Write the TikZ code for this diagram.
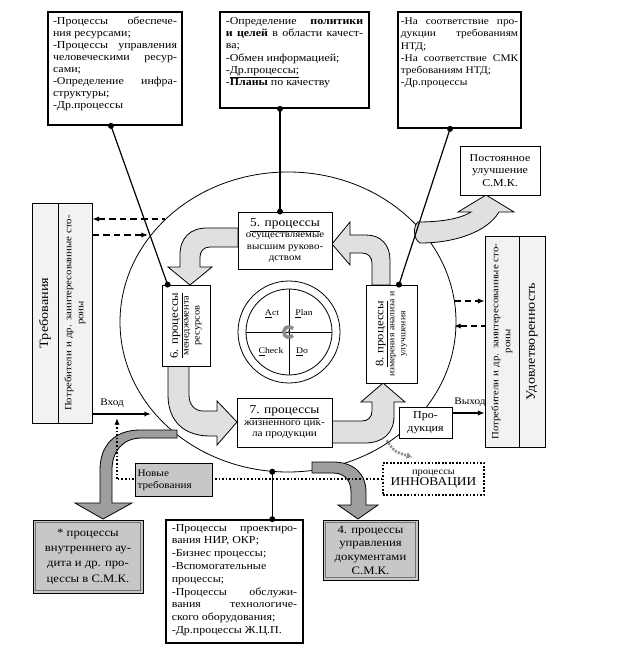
\documentclass[tikz,border=0pt]{standalone}
\usepackage{fontspec}
\setmainfont{Liberation Serif}[FakeStretch=1.12]
\usetikzlibrary{arrows.meta,shapes.geometric}
\newcommand\fz[2]{\fontsize{#1}{#2}\selectfont}
\newcommand\tbox[3]{\begin{minipage}[c][#1][t]{#2}#3\end{minipage}}
\begin{document}
\begin{tikzpicture}[x=0.75pt,y=-0.75pt,
  >={Latex[length=5pt,width=4pt]},
  box/.style={draw, line width=0.6pt, fill=white, inner sep=0pt},
  tbx/.style={draw, line width=1.3pt, fill=white, inner sep=0pt},
  col/.style={draw, line width=0.6pt, fill=black!5, inner sep=0pt},
  gbox/.style={draw, line width=0.6pt, fill=black!22, inner sep=0pt},
  dot/.style={circle, fill, inner sep=0pt, minimum size=4.5pt},
  conn/.style={line width=0.9pt},
  dsh/.style={line width=1.1pt, dash pattern=on 5pt off 3pt},
  dtt/.style={line width=1.2pt, dash pattern=on 1.2pt off 1.5pt},
  bigarr/.style={fill=black!12, draw, line width=0.6pt},
  grarr/.style={fill=black!38, draw, line width=0.6pt},
  lbl/.style={inner sep=0.5pt}]
\useasboundingbox (0,0) rectangle (625,648);
\fill[white] (0,0) rectangle (625,648);

% big ellipse
\node[draw, ellipse, line width=0.6pt, minimum width=252pt, minimum height=225pt, inner sep=0pt] (C) at (288,322) {};

\coordinate (inp) at (151,414);
\coordinate (nd) at (117,479);
\coordinate (dl1) at (165,219);
\coordinate (dl2) at (148,235);
\coordinate (dr1) at (454,301);
\coordinate (dr2) at (454,326);
\coordinate (outp) at (452,413);

% block arrows in the ring
\draw[bigarr] (238,228) -- (207,228) .. controls (190,228) and (180,238) .. (180,255) -- (180,267) -- (168,267) -- (190,285) -- (212,267) -- (200,267) -- (200,257) .. controls (200,251) and (204,247) .. (210,247) -- (238,247) -- cycle;
\draw[bigarr] (168,365) -- (168,395) .. controls (168,422) and (185,436) .. (210,436) -- (217,436) -- (217,445) -- (237,422) -- (217,401) -- (217,411) -- (203,411) .. controls (195,411) and (189,405) .. (189,395) -- (189,365) -- cycle;
\draw[bigarr] (332,421) -- (362,421) .. controls (368,421) and (372,417) .. (372,411) -- (372,402) -- (361,402) -- (383,383) -- (405,402) -- (394,402) -- (394,416) .. controls (394,433) and (383,443) .. (365,443) -- (332,443) -- cycle;
\draw[bigarr] (372,285) -- (372,263) .. controls (372,257) and (368,253) .. (362,253) -- (350,253) -- (350,265) -- (332,244) -- (350,222) -- (350,235) -- (366,235) .. controls (381,235) and (390,245) .. (390,260) -- (390,285) -- cycle;
% improvement arrow
\draw[bigarr] (418,222) .. controls (440,222) and (460,219) .. (471,212) -- (458,212) -- (486,195) -- (514,212) -- (499,212) .. controls (487,232) and (455,243) .. (420,243) .. controls (413,239) and (413,226) .. (418,222) -- cycle;
% gray arrows down
\draw[grarr] (177,430) -- (140,430) .. controls (115,430) and (100,445) .. (100,470) -- (100,503) -- (75,503) -- (103,519) -- (132,503) -- (112,503) -- (112,470) .. controls (112,452) and (122,438) .. (142,438) -- (177,438) -- cycle;
\draw[grarr] (312,462) -- (333,462) .. controls (354,462) and (366,474) .. (366,492) -- (366,505) -- (378,505) -- (358,519) -- (338,505) -- (351,505) -- (351,492) .. controls (351,481) and (345,473) .. (333,473) -- (312,473) -- cycle;

% PDCA
\node[circle, draw, line width=0.6pt, fill=white, minimum size=76.5pt, inner sep=0pt] (PO) at (289,332) {};
\node[circle, draw, line width=0.6pt, minimum size=64.5pt, inner sep=0pt] (P) at (289,332) {};
\draw[line width=0.6pt] (P.north) -- (P.south);
\draw[line width=0.6pt] (P.west) -- (P.east);
\node[lbl, font=\fz{6.5}{7}] (act) at (272,314) {\underline{A}ct};
\node[lbl, font=\fz{6.5}{7}] (pln) at (304,314) {\underline{P}lan};
\node[lbl, font=\fz{6.5}{7}] (chk) at (271,352) {\underline{C}heck};
\node[lbl, font=\fz{6.5}{7}] (doo) at (302,352) {\underline{D}o};
\draw[black!45, line width=2.6pt] ([shift={(40:4pt)}]P.center) arc[start angle=40, end angle=320, radius=4pt];
\fill[black!70] (P.center) circle[radius=1.3pt];

% top boxes
\node[tbx, minimum width=100.5pt, minimum height=84.75pt, font=\fz{8}{9}] (TL) at (115,68.5) {\tbox{78pt}{93pt}{-Процессы обеспече-\linebreak ния ресурсами;\newline -Процессы управления\linebreak человеческими ресур-\linebreak сами;\newline -Определение инфра-\linebreak структуры;\newline -Др.процессы}};
\node[tbx, minimum width=111.75pt, minimum height=72pt, font=\fz{8}{9.2}] (TM) at (294.5,60) {\tbox{64pt}{103pt}{-Определение \textbf{политики}\linebreak \textbf{и целей} в области качест-\linebreak ва;\newline -Обмен информацией;\newline -\underline{Др.процессы;}\newline -\textbf{Планы} по качеству}};
\node[tbx, minimum width=92.25pt, minimum height=87pt, font=\fz{7.6}{9.2}] (TR) at (459.5,70) {\tbox{78pt}{88pt}{-На соответствие про-\linebreak дукции требованиям\linebreak НТД;\newline -На соответствие СМК\linebreak требованиям НТД;\newline -Др.процессы}};
\node[box, minimum width=60pt, minimum height=36.75pt, align=center, font=\fz{8}{9.5}] (PU) at (500,170.5) {Постоянное\\улучшение\\С.М.К.};

% side columns
\node[col, rotate=90, minimum width=165pt, minimum height=19.5pt, font=\fz{9.5}{10}] (LC1) at (45,313) {Требования};
\node[col, rotate=90, minimum width=165pt, minimum height=25.5pt, text width=160pt, align=center, font=\fz{7.2}{9}] (LC2) at (75,313) {Потребители и др. заинтересованные сто-\\роны};
\node[col, rotate=90, minimum width=158.25pt, minimum height=25.5pt, text width=154pt, align=center, font=\fz{7.2}{9}] (RC1) at (502,341.5) {Потребители и др. заинтересованные сто-\\роны};
\node[col, rotate=90, minimum width=158.25pt, minimum height=19.5pt, font=\fz{9.5}{10}] (RC2) at (532,341.5) {Удовлетворенность};

% process boxes
\node[box, minimum width=70.5pt, minimum height=42.75pt, align=center, font=\fz{7.3}{8.4}] (B5) at (285,240.5) {{\fz{9}{10.5}\underline{5. процессы}}\\осуществляемые\\высшим руково-\\дством};
\node[box, minimum width=71.25pt, minimum height=36.75pt, align=center, font=\fz{7.5}{8.6}] (B7) at (284.5,422.5) {{\fz{9}{10.5}\underline{7. процессы}}\\жизненного цик-\\ла продукции};
\node[box, rotate=90, minimum width=60.75pt, minimum height=36pt, align=center, font=\fz{7}{8.2}] (B6) at (186,325.5) {{\fz{8.5}{10}\underline{6. процессы}}\\менеджмента\\ресурсов};
\node[box, rotate=90, minimum width=73.5pt, minimum height=38.25pt, align=center, font=\fz{6.5}{8.2}] (B8) at (391.5,334) {{\fz{8.5}{10}\underline{8. процессы}}\\измерения анализа и\\улучшения};

\node[box, minimum width=39.75pt, minimum height=23.25pt, align=center, font=\fz{8}{9.5}] (PR) at (425.5,422.5) {Про-\\дукция};

% innovation box and dotted new requirements line
\node[draw, line width=1.3pt, dash pattern=on 1.3pt off 1.3pt, fill=white, minimum width=75.75pt, minimum height=24pt, align=center, inner sep=0pt, font=\fz{7}{8}] (IN) at (433.5,479) {процессы\\{\fz{9}{9.5}ИННОВАЦИИ}};
\draw[dtt] (IN.west |- nd) -- (nd);
\draw[dtt, ->] (nd) -- ([yshift=-3pt]nd |- inp);
\node[gbox, minimum width=57.75pt, minimum height=25pt, align=left, text width=54pt, font=\fz{7.5}{9}] (NT) at (173.5,480) {Новые\\требования};
\draw[black!45, line width=2pt, dash pattern=on 1.5pt off 1pt, -{Latex[length=4pt,width=5.5pt]}] ([xshift=-9pt,yshift=-1.5pt]PR.south west) .. controls ([xshift=-3pt,yshift=-10pt]PR.south west) .. ([xshift=10pt,yshift=-14pt]PR.south west);

% bottom boxes
\node[gbox, minimum width=82.5pt, minimum height=54.75pt, align=center, font=\fz{8.5}{11.5}] (AU) at (88,556.5) {* процессы\\внутреннего ау-\\дита и др. про-\\цессы в С.М.К.};
\draw[black!55, line width=0.5pt] ([shift={(2pt,-2pt)}]AU.north west) rectangle ([shift={(-2pt,2pt)}]AU.south east);
\node[gbox, minimum width=71.25pt, minimum height=45pt, align=center, font=\fz{8.5}{10.2}] (DC) at (370.5,550) {4. процессы\\управления\\документами\\С.М.К.};
\draw[black!55, line width=0.5pt] ([shift={(2pt,-2pt)}]DC.north west) rectangle ([shift={(-2pt,2pt)}]DC.south east);
\node[tbx, minimum width=102.75pt, minimum height=92.25pt, font=\fz{8}{9.6}] (BM) at (234.5,581.5) {\tbox{86pt}{94pt}{-Процессы проектиро-\linebreak вания НИР, ОКР;\newline -Бизнес процессы;\newline -Вспомогательные\newline процессы;\newline -Процессы обслужи-\linebreak вания технологиче-\linebreak ского оборудования;\newline -Др.процессы Ж.Ц.П.}};

% connectors with dots
\draw[conn] ([xshift=-3pt]TL.south) node[dot]{} -- ([xshift=4.5pt]B6.north east) node[dot]{};
\draw[conn] ([xshift=-3.75pt]B5.north |- TM.south) node[dot]{} -- ([xshift=-3.75pt]B5.north) node[dot]{};
\draw[conn] ([xshift=-7.1pt]TR.south) node[dot]{} -- ([xshift=5.6pt]B8.east) node[dot]{};
\draw[conn] (C.264) node[dot]{} -- (C.264 |- BM.north) node[dot]{};

% dashed arrows
\draw[dsh, <-] (LC2.south |- dl1) -- (dl1);
\draw[dsh, ->] (LC2.south |- dl2) -- (dl2);
\draw[dsh, ->] (dr1) -- (dr1 -| RC1.north);
\draw[dsh, <-] (dr2) -- (dr2 -| RC1.north);

% input / output
\draw[line width=1.6pt, ->] (LC2.south |- inp) -- (inp);
\node[lbl, font=\fz{7.5}{8}] (vh) at (112,403) {Вход};
\draw[line width=1.6pt, ->] (outp) -- (outp -| RC1.north);
\node[lbl, font=\fz{7.5}{8}] (vyh) at (470,402) {Выход};
\end{tikzpicture}
\end{document}
